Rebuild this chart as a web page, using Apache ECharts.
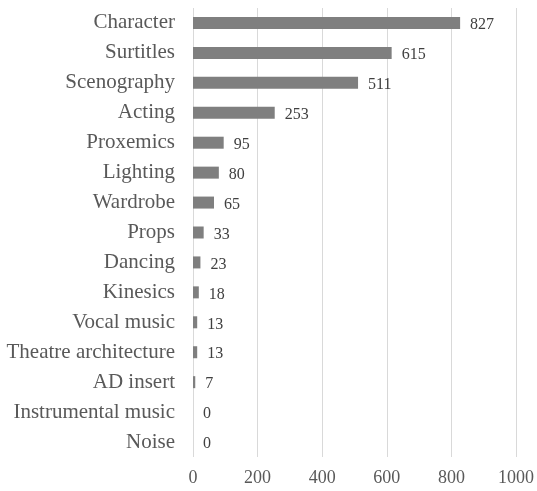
<!DOCTYPE html>
<html>
<head>
<meta charset="utf-8">
<script src="https://cdn.jsdelivr.net/npm/echarts@6/dist/echarts.min.js"></script>
<style>
  html, body { margin: 0; padding: 0; background: #fff; }
  #chart { width: 537px; height: 491px; }
</style>
</head>
<body>
<div id="chart"></div>
<script>
// Categories listed bottom-to-top (category axis runs upward)
const categories = [
  'Noise', 'Instrumental music', 'AD insert', 'Theatre architecture',
  'Vocal music', 'Kinesics', 'Dancing', 'Props', 'Wardrobe', 'Lighting',
  'Proxemics', 'Acting', 'Scenography', 'Surtitles', 'Character'
];
const counts = [0, 0, 7, 13, 13, 18, 23, 33, 65, 80, 95, 253, 511, 615, 827];
const xTicks = [0, 200, 400, 600, 800, 1000];

const font = '"Liberation Serif", "Times New Roman", serif';
const chart = echarts.init(document.getElementById('chart'), null, { renderer: 'canvas' });
chart.setOption({
  animation: false,
  backgroundColor: '#ffffff',
  grid: { left: 193, right: 20, top: 8, bottom: 34, containLabel: false },
  xAxis: {
    type: 'value',
    min: xTicks[0],
    max: xTicks[xTicks.length - 1],
    interval: 200,
    axisLine: { show: false },
    axisTick: { show: false },
    splitLine: { show: true, lineStyle: { color: '#d9d9d9', width: 1 } },
    axisLabel: {
      color: '#595959', fontFamily: font, fontSize: 18, margin: 12,
      formatter: v => String(v)
    }
  },
  yAxis: {
    type: 'category',
    data: categories,
    axisLine: { show: false },
    axisTick: { show: false },
    axisLabel: { color: '#595959', fontFamily: font, fontSize: 21, margin: 18 }
  },
  series: [{
    type: 'bar',
    data: counts,
    barWidth: 12,
    itemStyle: { color: '#7f7f7f' },
    label: {
      show: true,
      position: 'right',
      distance: 10,
      offset: [0, 2],
      color: '#404040',
      fontFamily: font,
      fontSize: 16
    }
  }]
});
</script>
</body>
</html>
